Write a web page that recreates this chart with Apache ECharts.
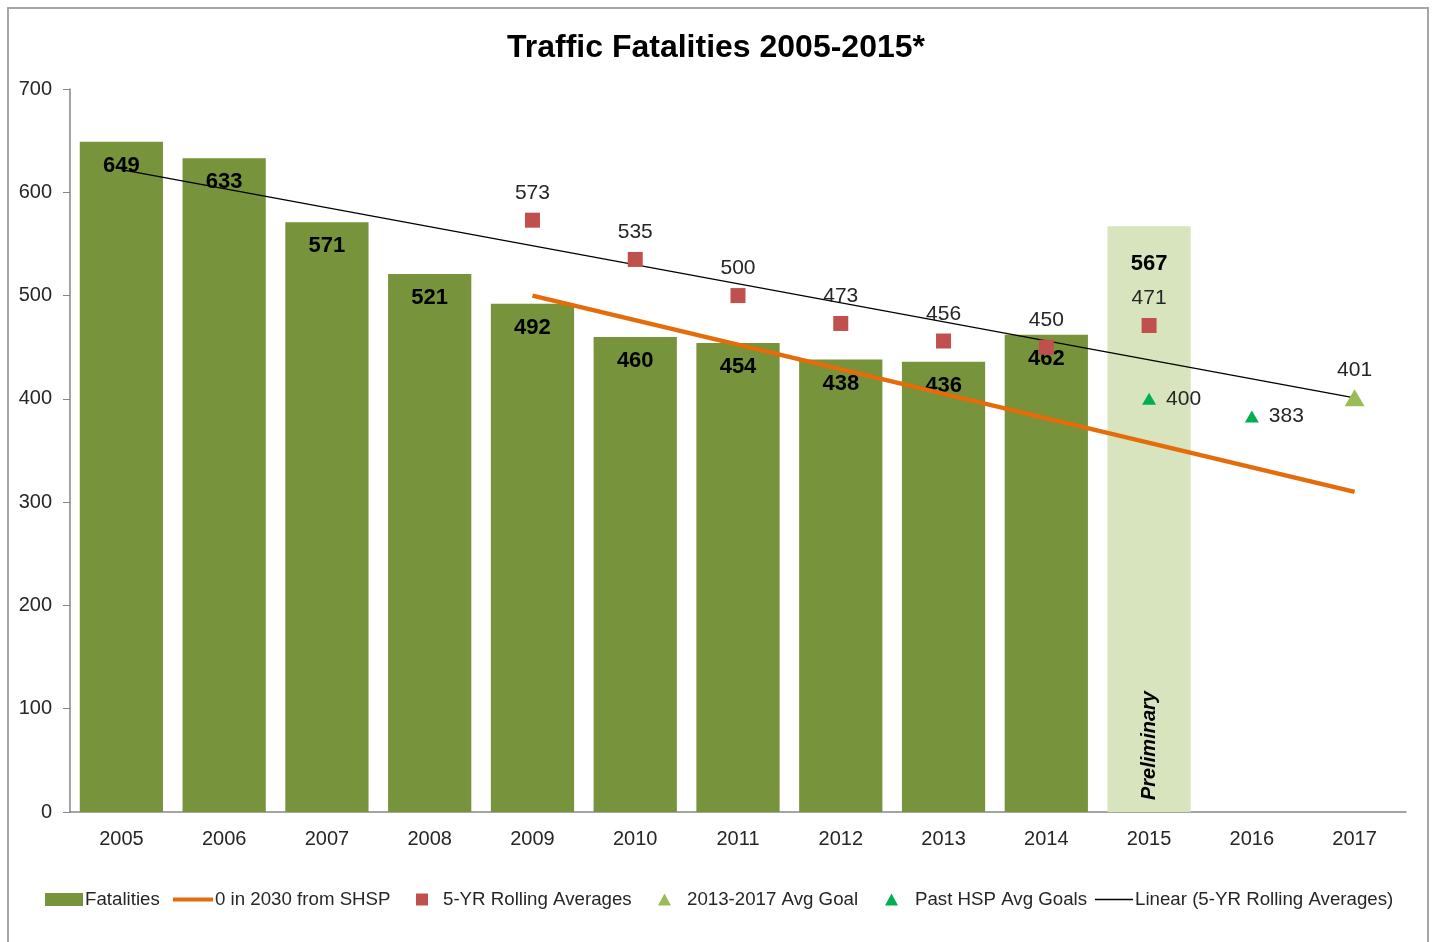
<!DOCTYPE html>
<html>
<head>
<meta charset="UTF-8">
<script src="https://cdn.jsdelivr.net/npm/echarts@6/dist/echarts.min.js"></script>
<style>
  html, body { margin: 0; padding: 0; background: #fff; }
  #main { width: 1432px; height: 942px; }
  #frame { position: absolute; left: 7px; top: 7px; width: 1418px; height: 950px;
           border: 2px solid #a6a6a6; pointer-events: none; }
</style>
</head>
<body>
<div id="main"></div>
<div id="frame"></div>
<script>
// chart values
var years = ['2005', '2006', '2007', '2008', '2009', '2010', '2011', '2012', '2013', '2014', '2015', '2016', '2017'];
var fatalities = [649, 633, 571, 521, 492, 460, 454, 438, 436, 462, 567, null, null];
var rollingAvg = [null, null, null, null, 573, 535, 500, 473, 456, 450, 471, null, null];
var avgGoal = [null, null, null, null, null, null, null, null, null, null, null, null, 401];
var hspGoals = [null, null, null, null, null, null, null, null, null, null, 400, 383, null];
var shspLine = [null, null, null, null, 500, null, null, null, null, null, null, null, 310];
var trendLine = [622, null, null, null, null, null, null, null, null, null, null, null, 401];
var prelimYear = '2015';

var font = "'Liberation Sans', sans-serif";
var green = '#77933c';
var prelimColor = '#d7e4bd';

var barData = fatalities.map(function (v, i) {
  if (years[i] === prelimYear) {
    return { value: v, itemStyle: { color: prelimColor }, label: { distance: 27 } };
  }
  return v;
});
var prelimData = fatalities.map(function (v, i) {
  return years[i] === prelimYear ? v : null;
});

function legendItem(name, left, icon, w, h, pad) {
  return {
    data: [{ name: name, icon: icon }],
    left: left, top: 885,
    itemWidth: w, itemHeight: h,
    textStyle: { fontFamily: font, fontSize: 18.7, color: '#262626', padding: [0, 0, 0, pad || 0] }
  };
}

var chart = echarts.init(document.getElementById('main'));
chart.setOption({
  animation: false,
  backgroundColor: '#fff',
  title: {
    text: 'Traffic Fatalities 2005-2015*',
    left: 'center', top: 27,
    textStyle: { fontFamily: font, fontSize: 32, fontWeight: 'bold', color: '#000' }
  },
  legend: [
    legendItem('Fatalities', 40, 'rect', 38, 13, -3),
    legendItem('0 in 2030 from SHSP', 168, 'rect', 40, 4, -3),
    legendItem('5-YR Rolling Averages', 411, 'rect', 12, 12, 10),
    legendItem('2013-2017 Avg Goal', 653, 'triangle', 13, 12, 11),
    legendItem('Past HSP Avg Goals', 880, 'triangle', 13, 12, 12),
    legendItem('Linear (5-YR Rolling Averages)', 1090, 'rect', 38, 1.5, -3)
  ],
  grid: { left: 70, right: 26, top: 89, bottom: 130 },
  xAxis: {
    type: 'category',
    data: years,
    axisLine: { lineStyle: { color: '#868686', width: 1.5 } },
    axisTick: { length: 7, lineStyle: { color: '#868686' } },
    axisLabel: { fontFamily: font, fontSize: 20, color: '#262626', margin: 17 }
  },
  yAxis: {
    type: 'value',
    min: 0, max: 700, interval: 100,
    splitLine: { show: false },
    axisLine: { show: true, lineStyle: { color: '#868686', width: 1.5 } },
    axisTick: { show: true, length: 7, lineStyle: { color: '#868686' } },
    axisLabel: { fontFamily: font, fontSize: 20, color: '#262626', margin: 18 }
  },
  series: [
    {
      name: 'Fatalities',
      type: 'bar',
      data: barData,
      itemStyle: { color: green },
      label: {
        show: true, position: 'insideTop', distance: 13,
        fontFamily: font, fontSize: 22, fontWeight: 'bold', color: '#000'
      },
      z: 1
    },
    {
      name: 'Preliminary',
      type: 'bar',
      data: prelimData,
      barGap: '-100%',
      barCategoryGap: '19%',
      itemStyle: { color: 'rgba(0,0,0,0)' },
      label: {
        show: true, position: 'insideBottom', distance: 12, rotate: 90,
        align: 'left', verticalAlign: 'middle',
        formatter: 'Preliminary',
        fontFamily: font, fontSize: 20, fontWeight: 'bold', fontStyle: 'italic', color: '#000'
      },
      z: 2
    },
    {
      name: 'Linear (5-YR Rolling Averages)',
      type: 'line',
      data: trendLine,
      connectNulls: true,
      symbol: 'none',
      lineStyle: { color: '#000', width: 1.3 },
      itemStyle: { color: '#000' },
      z: 3
    },
    {
      name: '0 in 2030 from SHSP',
      type: 'line',
      data: shspLine,
      connectNulls: true,
      symbol: 'none',
      lineStyle: { color: '#e46c0a', width: 4.5 },
      itemStyle: { color: '#e46c0a' },
      z: 4
    },
    {
      name: '5-YR Rolling Averages',
      type: 'scatter',
      data: rollingAvg,
      symbol: 'rect',
      symbolSize: 15,
      itemStyle: { color: '#c0504d', opacity: 1 },
      label: {
        show: true, position: 'top', distance: 9,
        fontFamily: font, fontSize: 21, color: '#262626'
      },
      z: 5
    },
    {
      name: '2013-2017 Avg Goal',
      type: 'scatter',
      data: avgGoal,
      symbol: 'triangle',
      symbolSize: [20, 17],
      itemStyle: { color: '#9bbb59', opacity: 1 },
      label: {
        show: true, position: 'top', distance: 9,
        fontFamily: font, fontSize: 21, color: '#262626'
      },
      z: 5
    },
    {
      name: 'Past HSP Avg Goals',
      type: 'scatter',
      data: hspGoals,
      symbol: 'triangle',
      symbolSize: [14, 12],
      itemStyle: { color: '#00b050', opacity: 1 },
      label: {
        show: true, position: 'right', distance: 10,
        fontFamily: font, fontSize: 21, color: '#262626'
      },
      z: 5
    }
  ]
});
</script>
</body>
</html>
